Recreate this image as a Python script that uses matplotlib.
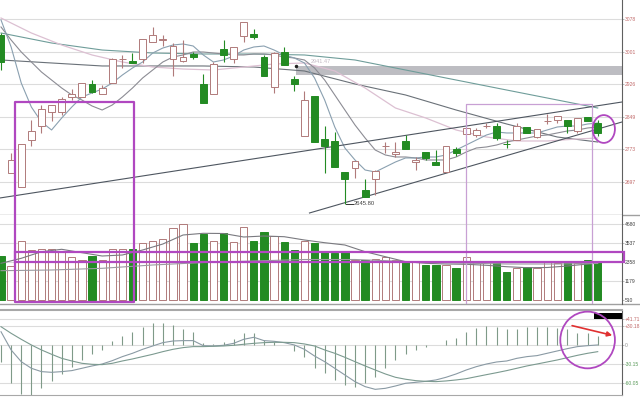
import numpy as np
import matplotlib
matplotlib.use('Agg')
import matplotlib.pyplot as plt
from matplotlib.patches import Rectangle, Ellipse, FancyArrowPatch

plt.rcParams['font.family'] = ['Liberation Sans', 'DejaVu Sans']

# daily candles, 60 sessions
opens = [3040.6, 2717.4, 2686.1, 2795.2, 2827.9, 2860.7, 2861.4, 2896.4, 2896.4, 2926.1,
         2902.0, 2927.7, 2983.8, 2980.5, 2983.8, 3024.9, 3030.0, 2983.8, 2980.5, 2996.0,
         2926.1, 2902.0, 3007.2, 2983.8, 3038.3, 3042.2, 2988.5, 2919.8, 3001.6, 2937.1,
         2804.6, 2898.0, 2796.9, 2792.9, 2719.7, 2729.1, 2678.4, 2704.1, 2780.0, 2762.5,
         2793.6, 2743.1, 2767.9, 2743.1, 2721.1, 2774.2, 2808.5, 2806.9, 2827.0, 2827.9,
         2786.0, 2795.2, 2826.3, 2801.5, 2839.5, 2841.9, 2841.9, 2816.9, 2849.7, 2835.6]
highs = [3045.3, 2765.6, 2785.9, 2841.9, 2877.0, 2876.3, 2896.4, 2913.7, 2927.7, 2935.4,
         2923.7, 2987.6, 2993.9, 2997.8, 3030.6, 3060.0, 3040.6, 3021.2, 3028.9, 3000.0,
         2949.5, 2978.2, 3028.9, 3011.9, 3071.7, 3053.9, 2993.9, 3001.6, 3011.9, 2944.8,
         2910.4, 2898.0, 2827.9, 2814.6, 2719.7, 2746.9, 2703.4, 2725.0, 2791.3, 2791.3,
         2806.9, 2756.2, 2767.9, 2771.9, 2781.9, 2779.6, 2822.6, 2822.6, 2834.2, 2834.2,
         2795.2, 2834.2, 2826.3, 2820.9, 2856.0, 2852.0, 2841.9, 2845.9, 2849.7, 2841.9]
lows = [2958.8, 2717.4, 2686.1, 2781.9, 2810.9, 2840.3, 2853.6, 2888.7, 2896.4, 2904.4,
        2902.0, 2927.7, 2962.8, 2975.9, 2975.9, 3024.9, 3014.9, 2944.8, 2978.2, 2985.0,
        2882.4, 2902.0, 2978.2, 2974.5, 3024.9, 3030.6, 2944.8, 2905.8, 2970.5, 2910.4,
        2804.6, 2791.3, 2717.4, 2731.4, 2645.8, 2705.7, 2662.7, 2666.7, 2764.2, 2756.2,
        2774.2, 2725.1, 2748.5, 2736.8, 2721.1, 2758.6, 2808.5, 2801.5, 2822.6, 2795.2,
        2775.8, 2795.2, 2812.3, 2799.0, 2832.6, 2835.6, 2810.9, 2812.3, 2840.3, 2804.6]
closes = [2978.5, 2748.5, 2785.9, 2816.9, 2867.0, 2876.3, 2891.0, 2902.7, 2927.7, 2908.1,
          2917.4, 2983.8, 2985.0, 2975.9, 3030.6, 3040.6, 3032.0, 3014.9, 2988.5, 2990.0,
          2882.4, 2972.1, 2993.9, 3011.9, 3071.7, 3036.6, 2944.8, 2997.8, 2970.5, 2926.1,
          2888.7, 2791.3, 2781.9, 2731.4, 2704.1, 2746.9, 2662.7, 2722.8, 2782.0, 2766.0,
          2774.2, 2748.5, 2752.5, 2736.8, 2781.9, 2764.2, 2822.6, 2818.6, 2828.5, 2799.2,
          2785.0, 2827.9, 2812.3, 2820.9, 2840.3, 2852.0, 2827.9, 2845.9, 2840.3, 2812.3]
volume = [2732, 2137, 3672, 3101, 3162, 3162, 2996, 2652, 2487, 2751,
          2487, 3144, 3144, 3162, 3512, 3672, 3758, 4470, 4697, 3512,
          4065, 3672, 4163, 3573, 4494, 3635, 4187, 3960, 3573, 3101,
          3672, 3549, 2996, 2935, 2996, 2487, 2487, 2530, 2689, 2487,
          2382, 2382, 2161, 2161, 2180, 1977, 2689, 2382, 2382, 2345,
          1768, 1977, 2075, 1977, 2425, 2284, 2345, 2284, 2487, 2345]

# moving averages on the price panel
ma5 = [3075.7, 3012.6, 2928.4, 2872.3, 2837.3, 2818.6, 2846.6, 2872.3, 2895.7, 2905.1,
       2914.4, 2928.4, 2947.1, 2963.5, 2977.5, 2998.5, 3010.2, 3017.2, 3019.6, 3014.9,
       2993.9, 2977.5, 2982.2, 2991.5, 3005.5, 3012.6, 3014.9, 3005.5, 2993.9, 2986.9,
       2975.2, 2940.1, 2888.7, 2825.6, 2776.5, 2748.5, 2725.1, 2720.4, 2732.1, 2743.8,
       2753.2, 2753.2, 2755.5, 2755.5, 2760.2, 2771.8, 2783.5, 2795.2, 2806.9, 2813.9,
       2811.6, 2811.6, 2811.6, 2811.6, 2818.6, 2825.6, 2827.9, 2827.9, 2832.6, 2834.9]
ma10 = [3059.3, 3028.9, 3000.9, 2977.5, 2954.1, 2935.4, 2916.7, 2900.4, 2888.7, 2874.7,
        2865.3, 2877.0, 2895.7, 2916.7, 2940.1, 2958.8, 2977.5, 2989.2, 2993.9, 3000.9,
        3000.9, 2998.5, 2996.2, 2993.9, 2993.9, 2996.2, 2996.2, 2993.9, 2989.2, 2986.9,
        2982.2, 2963.5, 2935.4, 2900.4, 2865.3, 2830.3, 2799.9, 2771.8, 2760.2, 2755.5,
        2755.5, 2753.2, 2748.5, 2748.5, 2748.5, 2755.5, 2767.2, 2776.5, 2778.9, 2783.5,
        2790.5, 2795.2, 2799.9, 2804.6, 2806.9, 2811.6, 2816.3, 2818.6, 2823.3, 2825.6]
ma20_x = [0, 3, 6, 9, 12, 15, 18, 21, 24, 27, 30, 33, 36, 39, 42, 45, 48, 51, 54, 57, 59]
ma20 = [3080.3, 3045.3, 3017.2, 2993.9, 2977.5, 2965.8, 2961.1, 2958.8, 2965.8, 2972.8,
        2975.2, 2956.5, 2916.7, 2870.0, 2846.6, 2818.6, 2802.2, 2792.9, 2792.9, 2797.6, 2799.9]
ma30_x = [0, 5, 10, 15, 20, 25, 30, 35, 40, 45, 50, 55, 59]
ma30 = [2982.2, 2975.2, 2968.2, 2968.2, 2968.2, 2965.8, 2956.5, 2926.1, 2900.4,
        2865.3, 2832.6, 2802.2, 2790.5]
ma60_x = [0, 5, 10, 15, 20, 25, 30, 35, 40, 45, 50, 55, 59]
ma60 = [3045.3, 3021.9, 3005.5, 2998.5, 2996.2, 2996.2, 2993.9, 2982.2, 2958.8,
        2935.4, 2912.0, 2888.7, 2870.0]

# volume averages
vma5_x = list(range(0, 60, 2)) + [59]
vma5 = [2284, 2591, 2996, 3144, 2935, 2732, 2794, 3101, 3469, 4022,
        4126, 4114, 3899, 3960, 3917, 3715, 3549, 3408, 2996, 2689,
        2382, 2284, 2241, 2223, 2161, 2075, 2014, 2026, 2118, 2241, 2321]
vma10_x = [0, 5, 10, 15, 20, 25, 30, 35, 40, 45, 50, 55, 59]
vma10 = [1830, 1873, 1977, 2180, 2333, 2425, 2517, 2517, 2395, 2303, 2241, 2241, 2272]

# MACD
dif = [21.0, -7.9, -26.5, -37.0, -42.3, -43.4, -42.3, -40.7, -37.0, -33.3,
       -30.2, -24.9, -18.5, -13.2, -6.9, -1.6, 3.7, 6.3, 6.9, 6.9,
       -1.1, -1.6, -0.5, 2.6, 9.0, 12.2, 6.9, 5.8, 3.7, 0.0,
       -6.9, -17.5, -26.5, -37.0, -47.6, -58.2, -66.1, -70.4, -68.8, -65.1,
       -60.8, -59.3, -57.7, -55.5, -51.3, -46.0, -39.7, -34.4, -30.2, -27.0,
       -25.4, -21.2, -18.5, -16.9, -13.2, -9.5, -5.8, -2.6, -1.1, 0.0]
dea = [29.0, 18.5, 9.0, 0.0, -7.9, -14.8, -21.2, -25.4, -29.1, -30.7,
       -31.2, -29.1, -25.4, -22.2, -18.5, -14.8, -10.6, -6.9, -4.2, -2.6,
       -2.6, -2.1, -1.6, -0.5, 1.1, 2.6, 3.7, 4.2, 4.2, 3.7,
       1.6, -1.6, -7.9, -13.2, -19.6, -26.5, -33.3, -39.7, -46.0, -51.3,
       -54.4, -56.6, -57.7, -58.2, -57.1, -55.5, -53.5, -50.3, -47.1, -44.0,
       -40.7, -37.0, -33.3, -30.2, -27.0, -23.8, -20.1, -16.4, -13.2, -10.6]
macd_hist = [-26.5, -60.8, -78.0, -79.0, -68.8, -57.0, -46.0, -34.4, -23.8, -14.8,
             -7.9, 6.9, 14.3, 20.1, 29.1, 34.4, 35.4, 31.7, 24.9, 20.1,
             2.6, 1.6, 4.2, 9.0, 18.5, 19.6, 7.9, 4.2, 0.5, -9.0,
             -18.5, -36.0, -45.0, -55.5, -63.5, -67.0, -60.8, -51.3, -37.0, -23.8,
             -14.3, -7.9, -3.7, -0.5, 7.9, 10.6, 21.2, 26.5, 30.2, 29.1,
             24.9, 24.9, 28.1, 29.1, 29.1, 26.5, 24.9, 19.6, 18.5, 14.3]

price_ticks = [3078, 3001, 2926, 2849, 2773, 2697]
vol_ticks = [4680, 3537, 2358, 1179, 0]
vol_labels = ['4680', '3537', '2358', '1179', '510']
macd_ticks = [41.71, 30.18, 0, -30.15, -60.05]
macd_labels = ['+41.71', '+30.18', '0', '-30.15', '-60.05']

# trend lines drawn by hand on the chart: (x0, p0, x1, p1)
trend_a = (-0.1, 2659.7, 61.4, 2884.0)
trend_b = (30.5, 2624.6, 61.4, 2837.3)

GREEN = '#238b23'
UPEDGE = '#b07a7a'
GRID = '#dcdcdc'
MAG = '#b048c0'

x = np.arange(len(closes))
o = np.array(opens); c = np.array(closes)
down = c < o

W, H = 640, 397
fig = plt.figure(figsize=(6.4, 3.97), dpi=100)
def rect(top, bottom):
    return [0, 1 - bottom / H, 622 / W, (bottom - top) / H]
ax1 = fig.add_axes(rect(0, 215))
ax2 = fig.add_axes(rect(215, 304))
ax3 = fig.add_axes(rect(310, 395))
XL = (-0.1, 61.4)

for ax in (ax1, ax2, ax3):
    ax.set_xlim(*XL)
    for s in ('left', 'top', 'bottom'):
        ax.spines[s].set_visible(False)
    ax.spines['right'].set_color('#606060')
    ax.spines['right'].set_linewidth(0.8)
    ax.set_xticks([])
    ax.yaxis.tick_right()
    ax.tick_params(axis='y', length=1.5, width=0.5, color='#a0a0a0', pad=0.5, labelsize=3.6)

# ---- price panel
ax1.set_ylim(2619.9, 3122.4)
ax1.set_yticks(price_ticks)
ax1.set_yticklabels([str(t) for t in price_ticks], color='#c06868')
for t in price_ticks:
    ax1.axhline(t, color=GRID, lw=0.8, zorder=0)
ax1.plot([0, W / 622], [0, 0], transform=ax1.transAxes, color='#a0a0a0', lw=1, clip_on=False)

# supply band
ax1.add_patch(Rectangle((29.15, 2947.1), XL[1] - 29.15, 21.8, color='#bdbdc2', lw=0, zorder=1))
ax1.plot([29.15], [2968.2], 'o', color='#222222', ms=1.5, zorder=3)
ax1.text(30.6, 2979, '2941.47', fontsize=4, color='#c4bac4', va='center', zorder=3)

ax1.plot(ma60_x, ma60, color='#6f9d9a', lw=0.8, zorder=2)
ax1.plot(ma30_x, ma30, color='#6a7178', lw=0.8, zorder=2)
ax1.plot(ma20_x, ma20, color='#dcc0d2', lw=0.9, zorder=2)
ax1.plot(x, ma10, color='#8c8c94', lw=0.8, zorder=2)
ax1.plot(x, ma5, color='#8aa0b0', lw=0.8, zorder=2)

for tl in (trend_a, trend_b):
    ax1.plot([tl[0], tl[2]], [tl[1], tl[3]], color='#4e5660', lw=0.8, zorder=2)

wick_col = np.where(down, GREEN, UPEDGE)
ax1.vlines(x, lows, highs, colors=wick_col, lw=0.8, zorder=3)
body_lo = np.minimum(o, c)
body_h = np.maximum(np.abs(c - o), 0.9)
ax1.bar(x, body_h, bottom=body_lo, width=0.68,
        color=np.where(down, GREEN, 'white'), edgecolor=wick_col, linewidth=0.7, zorder=4)

ax1.plot([34.1, 34.8], [2645.8, 2645.8], color='#333333', lw=0.7, zorder=5)
ax1.text(34.85, 2645.8, '2645.80', fontsize=4.2, color='#404040', va='center', zorder=5)

# ---- volume panel
ax2.set_ylim(-215, 5250)
ax2.set_yticks(vol_ticks)
ax2.set_yticklabels(vol_labels, color='#404040')
for t in vol_ticks[:-1]:
    ax2.axhline(t, color=GRID, lw=0.8, zorder=0)
ax2.bar(x, volume, width=0.72, color=np.where(down, GREEN, 'white'),
        edgecolor=np.where(down, GREEN, UPEDGE), linewidth=0.7, zorder=3)
ax2.plot(vma5_x, vma5, color='#7a7a80', lw=0.8, zorder=4)
ax2.plot(vma10_x, vma10, color='#9a9aa0', lw=0.8, zorder=4)
ax2.plot([0, W / 622], [0, 0], transform=ax2.transAxes, color='#a0a0a0', lw=1, clip_on=False)

# ---- MACD panel
ax3.set_ylim(-79.4, 55.5)
ax3.set_yticks(macd_ticks)
ax3.set_yticklabels(macd_labels)
for lab, col in zip(ax3.get_yticklabels(), ['#c06868', '#c06868', '#909090', '#5a9a5a', '#5a9a5a']):
    lab.set_color(col)
for t in macd_ticks:
    ax3.axhline(t, color=GRID, lw=0.8, zorder=0)
ax3.vlines(x, 0, macd_hist, colors='#7f9a88', lw=0.8, zorder=2)
ax3.plot(x, dif, color='#8a9aa4', lw=0.8, zorder=3)
ax3.plot(x, dea, color='#7c9a90', lw=0.8, zorder=3)
for s in ('top', 'bottom'):
    ax3.spines[s].set_visible(True)
    ax3.spines[s].set_color('#a8a8a8')
ax3.spines['top'].set_linewidth(1.5)
ax3.add_patch(Rectangle((58.6, 41.5), 2.8, 9.5, color='black', lw=0, zorder=5, clip_on=False))

# ---- markup boxes, circles, arrow
ax1.plot([1.41, 1.41, 13.1, 13.1], [2600, 2884.0, 2884.0, 2600], color=MAG, lw=1.6, zorder=6)
ax2.plot([1.41, 1.41, 13.1, 13.1], [5300, -110, -110, 5300], color=MAG, lw=1.6, zorder=6)
ax1.set_ylim(2619.9, 3122.4)
ax2.set_ylim(-215, 5250)

ax1.plot([46.0, 46.0, 58.4, 58.4], [2600, 2878.6, 2878.6, 2600], color='#c8a0d4', lw=0.9, zorder=6)
ax2.plot([46.0, 46.0, 58.4, 58.4], [5300, -200, -200, 5300], color='#c8a0d4', lw=0.9, zorder=6)

ax2.add_patch(Rectangle((1.38, 2345), 61.6 - 1.38, 651, fill=False, edgecolor=MAG,
                        lw=1.6, zorder=6, clip_on=False))

ax1.add_patch(Ellipse((59.6, 2820.9), 2.2, 65, fill=False, edgecolor=MAG, lw=1.3, zorder=6))
ax3.add_patch(Ellipse((58.0, 7.9), 5.4, 90, fill=False, edgecolor=MAG, lw=1.3, zorder=6, clip_on=False))
ax3.add_patch(FancyArrowPatch((56.2, 31.7), (60.7, 14.3), arrowstyle='-|>', mutation_scale=7,
                              color='#e03030', lw=1.2, zorder=7))

fig.savefig('out.png', dpi=100)
